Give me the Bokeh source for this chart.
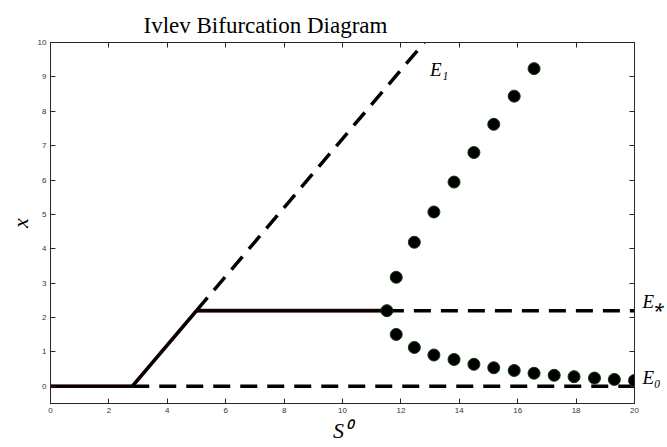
from bokeh.plotting import figure
from bokeh.models import Range1d, LinearAxis, FixedTicker, Label
from bokeh.embed import file_html
from bokeh.resources import INLINE

# ---- data ----
x_ticks = [0, 2, 4, 6, 8, 10, 12, 14, 16, 18, 20]
y_ticks = [0, 1, 2, 3, 4, 5, 6, 7, 8, 9, 10]

# stable (solid) pieces
washout_s = [0, 2.8]
washout_x = [0, 0]
e1_stable_s = [2.8, 5.0]
e1_stable_x = [0, 2.2]
estar_stable_s = [5.0, 11.52]
estar_stable_x = [2.2, 2.2]

# unstable (dashed) pieces
e0_unstable_s = [2.8, 20]
e0_unstable_x = [0, 0]
e1_unstable_s = [5.0, 12.8]
e1_unstable_x = [2.2, 10]
estar_unstable_s = [11.52, 20]
estar_unstable_x = [2.2, 2.2]

# periodic orbit (dots)
orbit_s = [11.84, 12.46, 13.13, 13.82, 14.50, 15.18, 15.88, 16.56,
           17.25, 17.93, 18.63, 19.31, 20.0]
orbit_max = [3.17, 4.19, 5.07, 5.94, 6.80, 7.62, 8.44, 9.24]
orbit_min = [1.51, 1.13, 0.91, 0.78, 0.64, 0.54, 0.46, 0.38,
             0.32, 0.28, 0.24, 0.20, 0.17]
hopf_s = [11.52]
hopf_x = [2.2]

# branch names at the right edge
branch_levels = [0, 2.2]
branch_names = ["E₀", "E⁎"]

SERIF = "Liberation Serif"
SANS = "Liberation Sans"
AX = "#262626"
NAME_LIFT = 0.27  # names sit a little above their branch

p = figure(width=667, height=447, x_range=Range1d(0, 20), y_range=Range1d(-0.5, 10),
           output_backend="svg", toolbar_location=None,
           min_border_left=50, min_border_right=30, min_border_top=42, min_border_bottom=44)

p.title.text = "Ivlev Bifurcation Diagram"
p.title.text_font = SERIF
p.title.text_font_size = "23px"
p.title.text_font_style = "normal"
p.title.align = "left"
p.title.offset = 93
p.title.text_color = "black"

p.grid.visible = False
p.outline_line_color = AX

def style(ax):
    ax.major_tick_in = 5
    ax.major_tick_out = 0
    ax.minor_tick_in = 5
    ax.minor_tick_out = 0
    ax.axis_line_color = AX
    ax.major_tick_line_color = AX
    ax.minor_tick_line_color = AX
    ax.major_label_text_color = "#333333"
    ax.major_label_text_font = SANS
    ax.major_label_text_font_size = "8px"
    ax.major_label_standoff = 4

style(p.xaxis[0])
style(p.yaxis[0])
p.xaxis[0].ticker = FixedTicker(ticks=x_ticks)
p.yaxis[0].ticker = FixedTicker(ticks=y_ticks)
p.xaxis[0].axis_label = "S⁰"
p.yaxis[0].axis_label = "x"
for ax in (p.xaxis[0], p.yaxis[0]):
    ax.axis_label_text_font = SERIF
    ax.axis_label_text_font_style = "italic"
    ax.axis_label_text_font_size = "22px"
    ax.axis_label_text_color = "black"
    ax.axis_label_standoff = 2

# top box edge: ticks only, no labels
top = LinearAxis(ticker=FixedTicker(ticks=[], minor_ticks=x_ticks))
style(top)
top.major_label_standoff = 0
p.add_layout(top, "above")

# right box edge: tick marks (minor) and the branch names as labels
name_pos = [lv + NAME_LIFT for lv in branch_levels]
right = LinearAxis(ticker=FixedTicker(ticks=name_pos, minor_ticks=y_ticks))
style(right)
right.major_tick_in = 0
right.major_label_overrides = {lv: nm for lv, nm in zip(name_pos, branch_names)}
right.major_label_text_font = SERIF
right.major_label_text_font_style = "italic"
right.major_label_text_font_size = "19px"
right.major_label_text_color = "black"
right.major_label_standoff = 8
p.add_layout(right, "right")

# solid stable branches
for s, x in [(washout_s, washout_x), (e1_stable_s, e1_stable_x), (estar_stable_s, estar_stable_x)]:
    p.line(s, x, line_color="#5a0000", line_width=3.6)
    p.line(s, x, line_color="black", line_width=3)

# dashed unstable branches
for s, x in [(e0_unstable_s, e0_unstable_x), (e1_unstable_s, e1_unstable_x),
             (estar_unstable_s, estar_unstable_x)]:
    p.line(s, x, line_color="black", line_width=3.5, line_dash="17 10")

# orbit points
p.scatter(orbit_s[:len(orbit_max)], orbit_max, size=12, fill_color="black",
          line_color="#0b3d0b", line_width=1)
p.scatter(orbit_s, orbit_min, size=12, fill_color="black",
          line_color="#0b3d0b", line_width=1)
p.scatter(hopf_s, hopf_x, size=12, fill_color="black", line_color="#0b3d0b", line_width=1)

p.add_layout(Label(x=13.0, y=8.9, text="E₁", text_font=SERIF, text_font_style="italic",
                   text_font_size="19px", text_color="black"))

open("out.html", "w").write(file_html(p, INLINE))
